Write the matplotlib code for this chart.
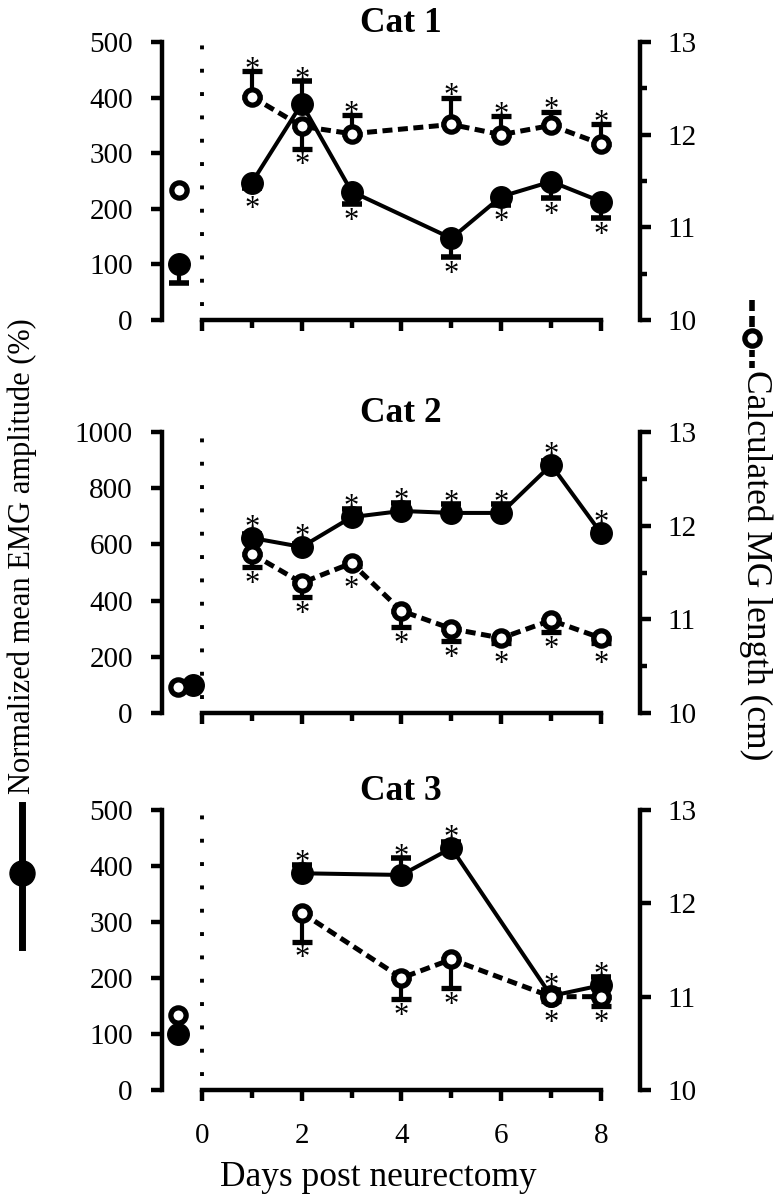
import matplotlib
matplotlib.use('Agg')
import matplotlib.pyplot as plt
from matplotlib.lines import Line2D
from matplotlib.ticker import MultipleLocator

plt.rcParams['font.family'] = ['Liberation Serif', 'DejaVu Serif']

DPI = 100
W, H = 776, 1200

# ---------------- data ----------------
cat_titles = ['Cat 1', 'Cat 2', 'Cat 3']
emg_max = [500, 1000, 500]
emg_step = [100, 200, 100]
right_minor = [True, True, False]

# pre-neurectomy (baseline) points
pre_emg_x = [-0.46, -0.18, -0.48]
pre_len_x = [-0.46, -0.48, -0.48]
pre_emg = [100, 100, 100]
pre_emg_err = [33, 0, 0]
pre_len = [11.4, 10.28, 10.8]

# Cat 1
cat1_days = [1, 2, 3, 5, 6, 7, 8]
cat1_emg = [247, 389, 231, 147, 222, 249, 213]
cat1_emg_err = [10, 40, 22, 33, 15, 30, 30]
cat1_emg_star = ['b', 'a', 'b', 'b', 'b', 'b', 'b']
cat1_len = [12.41, 12.09, 12.01, 12.11, 12.0, 12.1, 11.9]
cat1_len_err = [0.28, 0.24, 0.2, 0.29, 0.2, 0.15, 0.21]
cat1_len_star = ['a', 'b', 'a', 'a', 'a', 'a', 'a']

# Cat 2
cat2_days = [1, 2, 3, 4, 5, 6, 7, 8]
cat2_emg = [623, 591, 697, 719, 712, 712, 883, 640]
cat2_emg_err = [15, 10, 30, 30, 30, 30, 15, 10]
cat2_emg_star = ['a'] * 8
cat2_len = [11.70, 11.39, 11.60, 11.09, 10.90, 10.80, 10.99, 10.80]
cat2_len_err = [0.14, 0.15, 0.03, 0.17, 0.13, 0.05, 0.13, 0.05]
cat2_len_star = ['b'] * 8

# Cat 3
cat3_days = [2, 4, 5, 7, 8]
cat3_emg = [387, 384, 432, 168, 187]
cat3_emg_err = [15, 30, 10, 10, 15]
cat3_emg_star = ['a'] * 5
cat3_len = [11.9, 11.2, 11.4, 11.0, 11.0]
cat3_len_err = [0.31, 0.23, 0.31, 0.05, 0.1]
cat3_len_star = ['b'] * 5

panels = [
    (cat1_days, cat1_emg, cat1_emg_err, cat1_emg_star, cat1_len, cat1_len_err, cat1_len_star),
    (cat2_days, cat2_emg, cat2_emg_err, cat2_emg_star, cat2_len, cat2_len_err, cat2_len_star),
    (cat3_days, cat3_emg, cat3_emg_err, cat3_emg_star, cat3_len, cat3_len_err, cat3_len_star),
]

# ---------------- layout (pixels) ----------------
ax_left_px, ax_right_px = 162, 640
panel_px = [(42, 320), (432, 713), (810, 1090)]  # (top, bottom)
XLIM = (-0.8, 8.78)

TICK_FS = 21
TITLE_FS = 25.5
STAR_FS = 22

fig = plt.figure(figsize=(W / DPI, H / DPI), dpi=DPI)


def star_offsets(ax, x, v, err, direction, r_px=11, gap_px=9):
    t = ax.transData
    y0 = t.transform((x, v))[1]
    y1 = t.transform((x, v + err))[1]
    e_px = abs(y1 - y0)
    off = max(e_px + gap_px, r_px + 7)
    return off if direction == 'a' else -off


def draw_stars(ax, xs, vs, errs, dirs):
    for x, v, e, d in zip(xs, vs, errs, dirs):
        off_px = star_offsets(ax, x, v, e, d)
        off_pt = off_px * 72 / DPI
        # asterisk glyph center sits ~0.52 em above baseline
        ax.annotate('*', xy=(x, v), xytext=(0, off_pt - 0.52 * STAR_FS),
                    textcoords='offset points', ha='center', va='baseline',
                    fontsize=STAR_FS, annotation_clip=False, zorder=6)


for i, (top, bot) in enumerate(panel_px):
    days, emg, emg_err, emg_star, ln, ln_err, ln_star = panels[i]
    ax = fig.add_axes([ax_left_px / W, 1 - bot / H,
                       (ax_right_px - ax_left_px) / W, (bot - top) / H])
    ax2 = ax.twinx()
    ax.set_xlim(*XLIM)
    ax.set_ylim(0, emg_max[i])
    ax2.set_ylim(10, 13)
    ax.patch.set_visible(False)

    for a in (ax, ax2):
        for s in a.spines.values():
            s.set_linewidth(3.2)
            s.set_capstyle('projecting')
    ax.spines['top'].set_visible(False)
    ax.spines['right'].set_visible(False)
    ax2.spines['top'].set_visible(False)
    ax2.spines['left'].set_visible(False)
    ax2.spines['bottom'].set_visible(False)
    ax.spines['bottom'].set_bounds(0, 8)
    ax.spines['left'].set_bounds(0, emg_max[i])
    ax2.spines['right'].set_bounds(10, 13)

    ax.xaxis.set_major_locator(MultipleLocator(2))
    ax.xaxis.set_minor_locator(MultipleLocator(1))
    ax.yaxis.set_major_locator(MultipleLocator(emg_step[i]))
    ax2.yaxis.set_major_locator(MultipleLocator(1))
    if right_minor[i]:
        ax2.yaxis.set_minor_locator(MultipleLocator(0.5))
    ax.tick_params(axis='both', which='major', direction='out', length=8, width=3.2,
                   labelsize=TICK_FS, pad=13)
    ax.tick_params(axis='x', which='minor', direction='out', length=6, width=3.2)
    ax.tick_params(axis='x', which='major', pad=16)
    ax2.tick_params(axis='y', which='major', direction='out', length=8, width=3.2,
                    labelsize=TICK_FS, pad=12)
    ax2.tick_params(axis='y', which='minor', direction='out', length=5, width=3.2)
    if i < 2:
        ax.tick_params(axis='x', labelbottom=False)
    ax.set_xticks([0, 2, 4, 6, 8])

    # dotted line at surgery day
    ax.axvline(0, ymin=0.05, ymax=1.0, color='black', lw=2.8,
               ls=(0, (1, 5.0)), zorder=1)

    # EMG (filled, solid)
    ax.errorbar(days, emg,
                yerr=[[e if d == 'b' else 0 for e, d in zip(emg_err, emg_star)],
                      [e if d == 'a' else 0 for e, d in zip(emg_err, emg_star)]],
                fmt='-o', color='black', lw=2.9, ms=15.5, mfc='black', mec='black',
                elinewidth=3.0, capsize=7.5, capthick=4.0, zorder=3, clip_on=False)
    ax.errorbar([pre_emg_x[i]], [pre_emg[i]], yerr=[[pre_emg_err[i]], [0]],
                fmt='o', color='black', ms=15.5, elinewidth=3.0, capsize=7.5,
                capthick=4.0, zorder=3, clip_on=False)
    draw_stars(ax, days, emg, emg_err, emg_star)

    # length (open, dashed)
    ax2.errorbar(days, ln,
                 yerr=[[e if d == 'b' else 0 for e, d in zip(ln_err, ln_star)],
                       [e if d == 'a' else 0 for e, d in zip(ln_err, ln_star)]],
                 fmt='o', color='black', ms=11, mfc='white', mec='black', mew=3.8,
                 elinewidth=3.0, capsize=7.5, capthick=4.0, zorder=4, clip_on=False)
    ax2.plot(days, ln, color='black', lw=3.6, ls=(0, (2.0, 1.1)), zorder=2)
    ax2.plot([pre_len_x[i]], [pre_len[i]], 'o', ms=11, mfc='white', mec='black',
             mew=3.8, zorder=4, clip_on=False)
    draw_stars(ax2, days, ln, ln_err, ln_star)

    ax.set_title(cat_titles[i], fontsize=TITLE_FS, fontweight='bold', pad=7)

# axis labels
fig.text(378 / W, 1 - 1178 / H, 'Days post neurectomy', ha='center', va='center',
         fontsize=25.5)
fig.text(22 / W, 1 - 556 / H, 'Normalized mean EMG amplitude (%)', rotation=90,
         ha='center', va='center', fontsize=22)
fig.text(756 / W, 1 - 565 / H, 'Calculated MG length (cm)', rotation=270,
         ha='center', va='center', fontsize=25.5)

# legend glyphs beside the axis labels
fig.add_artist(Line2D([22 / W, 22 / W], [1 - 805 / H, 1 - 947 / H], color='black',
                      lw=5, transform=fig.transFigure))
fig.add_artist(Line2D([22 / W], [1 - 873 / H], marker='o', ms=18, color='black',
                      transform=fig.transFigure))
for y0, y1 in [(300, 311), (316, 327), (350, 357), (361, 368)]:
    fig.add_artist(Line2D([752 / W, 752 / W], [1 - y0 / H, 1 - y1 / H], color='black',
                          lw=4, solid_capstyle='butt', transform=fig.transFigure))
fig.add_artist(Line2D([752 / W], [1 - 338 / H], marker='o', ms=11, mfc='white',
                      mec='black', mew=3.8, color='black', transform=fig.transFigure))

fig.savefig('out.png', dpi=DPI)
